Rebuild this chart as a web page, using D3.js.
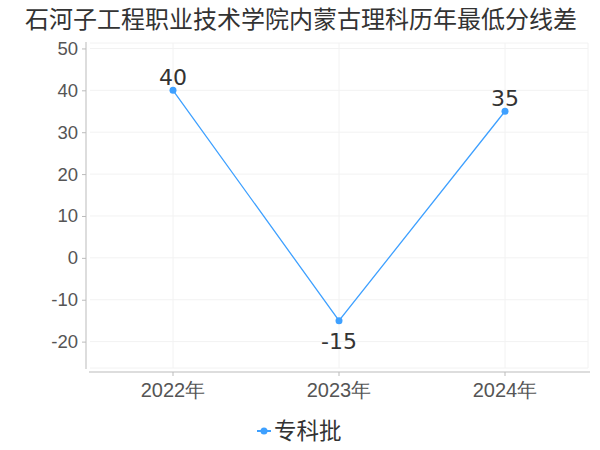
<!DOCTYPE html>
<html>
<head>
<meta charset="utf-8">
<script src="https://cdn.jsdelivr.net/npm/d3@7"></script>
<style>
  body { margin: 0; background: #fff; }
  svg { font-family: "DejaVu Sans", "Noto Sans CJK SC", sans-serif; }
</style>
</head>
<body>
<div id="chart"></div>
<script>
// chart data
const title = '石河子工程职业技术学院内蒙古理科历年最低分线差';
const years = ['2022年', '2023年', '2024年'];
const values = [40, -15, 35];
const seriesName = '专科批';
const yTicks = [50, 40, 30, 20, 10, 0, -10, -20];

const width = 600, height = 450;
const lineColor = '#3ea0ff';

const svg = d3.select('#chart').append('svg')
    .attr('width', width)
    .attr('height', height);

// title
svg.append('text')
    .attr('x', 301)
    .attr('y', 28)
    .attr('text-anchor', 'middle')
    .attr('font-size', 24)
    .attr('font-family', '"Noto Sans CJK SC", sans-serif')
    .attr('fill', '#333')
    .text(title);

const x = d3.scaleBand()
    .domain(years)
    .range([90, 588]);

const y = d3.scaleLinear()
    .domain([-26.3, 51.3])
    .range([368, 43]);

// grid lines
const grid = svg.append('g');
grid.selectAll('.hgrid')
    .data(yTicks)
    .enter().append('line')
    .attr('x1', 90).attr('x2', 588)
    .attr('y1', d => y(d)).attr('y2', d => y(d))
    .attr('stroke', '#f2f2f2');
grid.selectAll('.vgrid')
    .data(years)
    .enter().append('line')
    .attr('x1', d => x(d) + x.bandwidth() / 2)
    .attr('x2', d => x(d) + x.bandwidth() / 2)
    .attr('y1', 43).attr('y2', 368)
    .attr('stroke', '#f2f2f2');
grid.append('line')
    .attr('x1', 588).attr('x2', 588)
    .attr('y1', 43).attr('y2', 368)
    .attr('stroke', '#f2f2f2');
grid.append('line')
    .attr('x1', 90).attr('x2', 588)
    .attr('y1', 368).attr('y2', 368)
    .attr('stroke', '#f2f2f2');
grid.append('line')
    .attr('x1', 90).attr('x2', 588)
    .attr('y1', 43).attr('y2', 43)
    .attr('stroke', '#f2f2f2');

// y axis
const yAxis = svg.append('g')
    .attr('transform', 'translate(86,0)')
    .call(d3.axisLeft(y).tickValues(yTicks).tickFormat(d => String(d))
        .tickSize(4).tickPadding(4).tickSizeOuter(0));
yAxis.select('.domain').attr('stroke', '#bbb').attr('d', 'M0,42V369');
yAxis.selectAll('.tick line').attr('stroke', '#bbb');
yAxis.selectAll('.tick text')
    .attr('font-size', 18.5)
    .attr('fill', '#555');

// x axis
const xAxis = svg.append('g')
    .attr('transform', 'translate(0,372)')
    .call(d3.axisBottom(x).tickSize(4).tickPadding(7).tickSizeOuter(0));
xAxis.select('.domain').attr('stroke', '#bbb').attr('d', 'M89,0H590');
xAxis.selectAll('.tick line').attr('stroke', '#bbb');
xAxis.selectAll('.tick text')
    .attr('font-size', 20)
    .attr('fill', '#555');

const cx = d => x(d) + x.bandwidth() / 2;

// line
const line = d3.line()
    .x((d, i) => cx(years[i]))
    .y(d => y(d));

svg.append('path')
    .datum(values)
    .attr('d', line)
    .attr('fill', 'none')
    .attr('stroke', lineColor)
    .attr('stroke-width', 1.3);

svg.selectAll('.dot')
    .data(values)
    .enter().append('circle')
    .attr('cx', (d, i) => cx(years[i]))
    .attr('cy', d => y(d))
    .attr('r', 3.5)
    .attr('fill', lineColor);

// value labels
svg.selectAll('.label')
    .data(values)
    .enter().append('text')
    .attr('x', (d, i) => cx(years[i]))
    .attr('y', d => d < 0 ? y(d) + 28 : y(d) - 5)
    .attr('text-anchor', 'middle')
    .attr('font-size', 22)
    .attr('fill', '#333')
    .text(d => d);

// legend
const legend = svg.append('g').attr('transform', 'translate(257,431)');
legend.append('line')
    .attr('x1', 0).attr('x2', 14)
    .attr('stroke', lineColor).attr('stroke-width', 2);
legend.append('circle')
    .attr('cx', 7).attr('r', 3.5)
    .attr('fill', lineColor);
legend.append('text')
    .attr('x', 17)
    .attr('y', 8)
    .attr('font-size', 22.5)
    .attr('font-family', '"Noto Sans CJK SC", sans-serif')
    .attr('fill', '#333')
    .text(seriesName);
</script>
</body>
</html>
